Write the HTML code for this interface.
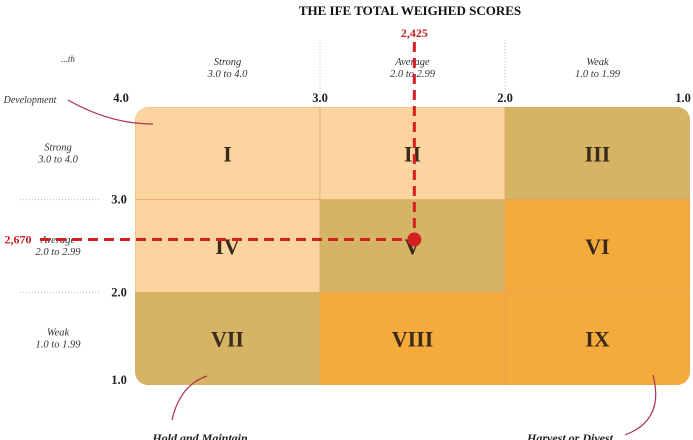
<!DOCTYPE html>
<html><head><meta charset="utf-8"><style>
body{margin:0;background:#fff;}
svg{display:block;font-family:"Liberation Serif",serif;}
</style></head><body>
<svg id="c" width="693" height="440"></svg>
<script>
const colLabels=["Strong","Average","Weak"];
const colRanges=["3.0 to 4.0","2.0 to 2.99","1.0 to 1.99"];
const xTicks=[4.0,3.0,2.0,1.0];
const yTicks=[4.0,3.0,2.0,1.0];
const cellNames=["I","II","III","IV","V","VI","VII","VIII","IX"];
const cellColors=["#fbd4a0","#fbd4a0","#d6b466","#fbd4a0","#d6b466","#f5aa3c","#d6b466","#f5aa3c","#f5aa3c"];
const ifeLabel=["2,425"];
const efeLabel=["2,670"];
const pointX=[2.49];
const pointY=[2.57];
const x0=135,x1=690,y0=107,y1=385;
const xs=v=>x0+(4-v)/3*(x1-x0);
const ys=v=>y0+(4-v)/3*(y1-y0);
const NS="http://www.w3.org/2000/svg";
const svg=document.getElementById('c');
function mk(t,a,p){const e=document.createElementNS(NS,t);for(const k in a)e.setAttribute(k,a[k]);(p||svg).appendChild(e);return e;}
function tx(x,y,s,a){const e=mk('text',Object.assign({x:x,y:y,'text-anchor':'middle'},a));e.textContent=s;return e;}
let t=tx(410,15,"THE IFE TOTAL WEIGHED SCORES",{'font-size':13,'font-weight':'bold',fill:'#111'});


const defs=mk('defs',{});const cp=mk('clipPath',{id:'rc'},defs);mk('rect',{x:x0,y:y0,width:x1-x0,height:y1-y0,rx:13},cp);
const g=mk('g',{'clip-path':'url(#rc)'});
for(let i=0;i<9;i++){const r=Math.floor(i/3),c=i%3;
 const cx0=xs(xTicks[c]),cx1=xs(xTicks[c+1]),cy0=ys(yTicks[r]),cy1=ys(yTicks[r+1]);
 const rc=mk('rect',{x:cx0,y:cy0,width:cx1-cx0,height:cy1-cy0,fill:cellColors[i],stroke:'#e3a060','stroke-width':0.6},g);
 
 
 const l=tx((cx0+cx1)/2,(cy0+cy1)/2+8,cellNames[i],{'font-size':22,'font-weight':'bold',fill:'#3a2a1a'});
 
 
}
for(let c=0;c<3;c++){const cx=(xs(xTicks[c])+xs(xTicks[c+1]))/2;
 const a=tx(cx,65,colLabels[c],{'font-size':10.5,'font-style':'italic',fill:'#333'});
 
 
 const b=tx(cx,77,colRanges[c],{'font-size':10.5,'font-style':'italic',fill:'#333'});
 
 
 const cy=(ys(yTicks[c])+ys(yTicks[c+1]))/2;
 const d=tx(58,cy-3,colLabels[c],{'font-size':10.5,'font-style':'italic',fill:'#333'});
 
 
 const e=tx(58,cy+9,colRanges[c],{'font-size':10.5,'font-style':'italic',fill:'#333'});
 
 
}
for(let i=1;i<3;i++){
 const v=mk('line',{x1:xs(xTicks[i]),x2:xs(xTicks[i]),y1:40,y2:100,stroke:'#bbb','stroke-dasharray':'1,2'});
 
 
 const h=mk('line',{x1:20,x2:100,y1:ys(yTicks[i]),y2:ys(yTicks[i]),stroke:'#bbb','stroke-dasharray':'1,2'});
 
 
}
xTicks.forEach((v,i)=>{const x=i==0?121:i==3?683:xs(v);
 const e=tx(x,102,v.toFixed(1),{'font-size':12.5,'font-weight':'bold',fill:'#222'});
 
 });
yTicks.slice(1).forEach(v=>{const y=v==1?ys(v)-1:ys(v)+4;
 const e=tx(119,y,v.toFixed(1),{'font-size':12.5,'font-weight':'bold',fill:'#222'});
 
 });
const px=xs(pointX[0]),py=ys(pointY[0]);
const vl=mk('line',{x1:px,x2:px,y1:42,y2:py,stroke:'#d42020','stroke-width':3,'stroke-dasharray':'10,6'});


const hl=mk('line',{x1:40,x2:px,y1:py,y2:py,stroke:'#d42020','stroke-width':3,'stroke-dasharray':'10,6'});


const pt=mk('circle',{cx:px,cy:py,r:7,fill:'#d42020'});


const l1=tx(px,37,ifeLabel[0],{'font-size':12,'font-weight':'bold',fill:'#c42020'});


const l2=tx(18,py+4,efeLabel[0],{'font-size':12,'font-weight':'bold',fill:'#c42020'});


const arrows=[["M153,124 Q110,124 68,100","grow-arrow"],["M207,376 Q180,385 172,420","hold-arrow"],["M653,375 Q665,420 625,435","harvest-arrow"]];
arrows.forEach(a=>{const p=mk('path',{d:a[0],fill:'none',stroke:'#b03050','stroke-width':1.2});
 
 });
const n1=tx(30,103,"Development",{'font-size':10,'font-style':'italic',fill:'#333'});


const n0=tx(68,62,"...th",{'font-size':9,'font-style':'italic',fill:'#333'});


const n2=tx(200,442,"Hold and Maintain",{'font-size':12,'font-weight':'bold','font-style':'italic',fill:'#222'});


const n3=tx(570,442,"Harvest or Divest",{'font-size':12,'font-weight':'bold','font-style':'italic',fill:'#222'});


</script>
</body></html>
